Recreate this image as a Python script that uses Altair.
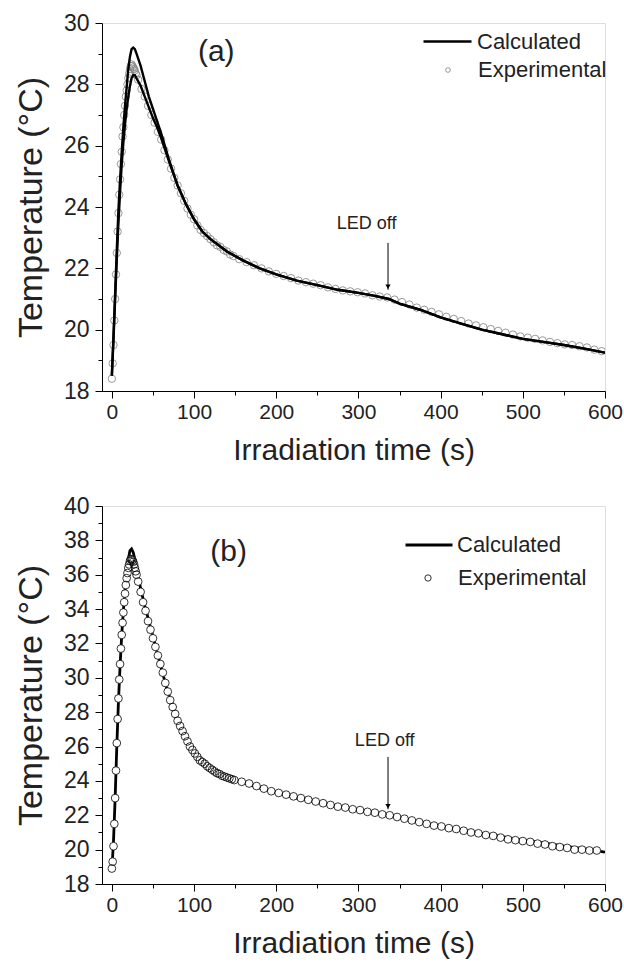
import altair as alt
import pandas as pd

FONT = "Liberation Sans"
TXT = "#222222"

# ---------------- panel (a) ----------------
calc_t_a = [0, 2, 4, 6, 8, 10, 12, 14, 16, 18, 20, 22, 24, 26, 28, 30, 35, 40, 45, 50, 55, 60, 70,
            80, 90, 100, 110, 120, 140, 160, 180, 200, 225, 250, 275, 300, 320, 337, 350, 375, 400,
            425, 450, 475, 500, 525, 550, 575, 600]
calc_hi_a = [18.5, 19.8, 21.2, 22.6, 23.9, 24.9, 25.8, 26.6, 27.3, 27.9, 28.5, 28.9, 29.15, 29.2, 29.15,
             29.0, 28.6, 28.1, 27.6, 27.2, 26.8, 26.4, 25.5,
             24.7, 24.1, 23.6, 23.2, 22.95, 22.55, 22.25, 22.0, 21.8, 21.6, 21.45, 21.3, 21.2, 21.1, 21.0,
             20.85, 20.65, 20.4, 20.2, 20.0, 19.85, 19.7, 19.6, 19.5, 19.38, 19.25]
calc_lo_a = [18.5, 19.7, 21.0, 22.3, 23.5, 24.5, 25.4, 26.1, 26.7, 27.2, 27.6, 27.95, 28.2, 28.3, 28.3,
             28.2, 27.95, 27.6, 27.25, 26.9, 26.6, 26.25, 25.45,
             24.7, 24.1, 23.6, 23.2, 22.95, 22.55, 22.25, 22.0, 21.8, 21.6, 21.45, 21.3, 21.2, 21.1, 21.0,
             20.85, 20.65, 20.4, 20.2, 20.0, 19.85, 19.7, 19.6, 19.5, 19.38, 19.25]

exp_t_a = [0, 1, 2, 3, 4, 5, 6, 7, 8, 9, 10, 11, 12, 13, 14, 15, 16, 17, 18, 19, 20, 21, 22, 23, 24,
           25, 26, 27, 28, 29, 30,
           32, 36, 40, 44, 48, 52, 56, 60, 64, 68, 72, 76, 80, 84, 88, 92, 96, 100, 104, 108, 112, 116,
           120, 124, 128, 132, 136, 140, 144, 148,
           155, 164, 173, 182, 191, 200, 209, 218, 227, 236, 245, 254, 263, 272, 281, 290, 299, 308,
           317, 326, 335, 344, 353, 362, 371, 380, 389, 398, 407, 416, 425, 434, 443, 452, 461, 470,
           479, 488, 497, 506, 515, 524, 533, 542, 551, 560, 569, 578, 587, 596]
exp_T_a = [18.4, 18.9, 19.5, 20.3, 21.0, 21.8, 22.5, 23.2, 23.8, 24.4, 24.9, 25.4, 25.8, 26.3, 26.6,
           27.0, 27.3, 27.6, 27.8, 28.0, 28.2, 28.35, 28.5, 28.6, 28.65, 28.6, 28.55, 28.5, 28.45,
           28.35, 28.3,
           28.15, 27.85, 27.6, 27.3, 27.0, 26.75, 26.45, 26.2, 25.85, 25.55, 25.25, 24.95, 24.7, 24.45,
           24.2, 23.95, 23.75, 23.6, 23.4, 23.25, 23.15, 23.05, 22.95, 22.85, 22.75, 22.7, 22.6, 22.55,
           22.45, 22.4,
           22.3, 22.2, 22.1, 22.0, 21.9, 21.82, 21.75, 21.68, 21.6, 21.55, 21.5, 21.45, 21.38, 21.33,
           21.28, 21.25, 21.22, 21.18, 21.12, 21.08, 21.05, 20.98, 20.9, 20.82, 20.72, 20.65, 20.58,
           20.5, 20.42, 20.35, 20.28, 20.2, 20.14, 20.08, 20.02, 19.96, 19.9, 19.84, 19.78, 19.74,
           19.7, 19.65, 19.6, 19.56, 19.52, 19.5, 19.46, 19.42, 19.35, 19.3]

# ---------------- panel (b) ----------------
calc_t_b = [0, 2, 4, 6, 8, 10, 12, 14, 16, 18, 20, 22, 24, 26, 28, 30, 35, 40, 45, 50, 55, 60, 65, 70,
            75, 80, 85, 90, 95, 100, 110, 120, 130, 140, 150, 175, 200, 225, 250, 275, 300, 320, 338,
            350, 375, 400, 425, 450, 475, 500, 525, 550, 575, 600]
calc_T_b = [18.8, 20.5, 23.0, 26.0, 28.6, 30.7, 32.5, 33.9, 35.1, 36.1, 36.9, 37.4, 37.5, 37.3, 36.9,
            36.4, 35.2, 34.2, 33.3, 32.4, 31.5, 30.6, 29.7, 28.9, 28.2, 27.6, 27.1, 26.6, 26.2, 25.8,
            25.2, 24.8, 24.5, 24.25, 24.05, 23.65, 23.3, 23.0, 22.75, 22.5, 22.3, 22.15, 22.0, 21.85,
            21.6, 21.35, 21.15, 20.95, 20.75, 20.55, 20.4, 20.2, 20.05, 19.85]

exp_t_b = [0, 1, 2, 3, 4, 5, 6, 7, 8, 9, 10, 11, 12, 13, 14, 15, 16, 17, 18, 19, 20, 21, 22, 23, 24,
           25, 26, 27, 28, 29, 30,
           32, 35, 38, 41, 44, 47, 50, 53, 56, 59, 62, 65, 68, 71, 74, 77, 80, 83, 86, 89, 92, 95, 98,
           101, 104, 107, 110, 113, 116, 119, 122, 125, 128, 131, 134, 137, 140, 143, 146, 149,
           158, 167, 176, 185, 194, 203, 212, 221, 230, 239, 248, 257, 266, 275, 284, 293, 302, 311,
           320, 329, 338, 347, 356, 365, 374, 383, 392, 401, 410, 419, 428, 437, 446, 455, 464, 473,
           482, 491, 500, 509, 518, 527, 536, 545, 554, 563, 572, 581, 590]
exp_T_b = [18.9, 19.3, 20.2, 21.5, 23.0, 24.6, 26.2, 27.6, 28.8, 29.9, 30.8, 31.7, 32.5, 33.2, 33.8,
           34.4, 34.9, 35.4, 35.8, 36.1, 36.4, 36.6, 36.8, 36.9, 36.9, 36.85, 36.75, 36.6, 36.4, 36.2,
           36.0,
           35.6, 35.0, 34.4, 33.9, 33.3, 32.8, 32.3, 31.8, 31.3, 30.8, 30.3, 29.7, 29.2, 28.7, 28.3,
           27.9, 27.5, 27.2, 26.9, 26.6, 26.3, 26.0, 25.8, 25.6, 25.4, 25.2, 25.1, 25.0, 24.85, 24.75,
           24.65, 24.55, 24.45, 24.4, 24.3, 24.25, 24.2, 24.15, 24.1, 24.05,
           23.95, 23.85, 23.7, 23.55, 23.4, 23.3, 23.2, 23.1, 23.0, 22.9, 22.8, 22.7, 22.6, 22.5,
           22.45, 22.35, 22.3, 22.2, 22.15, 22.05, 22.0, 21.9, 21.8, 21.7, 21.6, 21.5, 21.4, 21.35,
           21.25, 21.2, 21.1, 21.0, 20.95, 20.85, 20.8, 20.7, 20.6, 20.55, 20.5, 20.45, 20.35, 20.3,
           20.2, 20.15, 20.1, 20.0, 20.0, 19.95, 19.95]

# axis tick values (major with labels, minor without)
x_major = [0, 100, 200, 300, 400, 500, 600]
x_minor = [50, 150, 250, 350, 450, 550]
y_major_a = [18, 20, 22, 24, 26, 28, 30]
y_minor_a = [19, 21, 23, 25, 27, 29]
y_major_b = [18, 20, 22, 24, 26, 28, 30, 32, 34, 36, 38, 40]
y_minor_b = [19, 21, 23, 25, 27, 29, 31, 33, 35, 37, 39]
x_title = "Irradiation time (s)"
y_title = "Temperature (\u00b0C)"
legend_names = ["Calculated", "Experimental"]

# annotations (data coordinates)
panel_lbl_a = {"t": [127], "T": [29.05], "txt": ["(a)"]}
panel_lbl_b = {"t": [142], "T": [37.3], "txt": ["(b)"]}
led_lbl_a = {"t": [310], "T": [23.45], "txt": ["LED off"]}
led_lbl_b = {"t": [332], "T": [26.3], "txt": ["LED off"]}
arrow_a = {"t": [336], "T": [22.83], "T2": [21.3]}
arrow_b = {"t": [336], "T": [25.4], "T2": [22.35]}

W = 503


def major_x():
    return alt.Axis(
        values=x_major, title=x_title, orient="bottom", tickSize=7,
        labelFlush=False, labelOverlap=False, labelBound=False, grid=False,
        labelFontSize=21, titleFontSize=30, titleFontWeight="normal",
        labelFont=FONT, titleFont=FONT, labelColor=TXT, titleColor=TXT,
        domainColor="black", tickColor="black", labelPadding=3, titlePadding=13,
    )


def minor_x():
    return alt.Axis(values=x_minor, orient="bottom", tickSize=4, labels=False, domain=False,
                    grid=False, title=None, tickColor="black")


def major_y(vals):
    return alt.Axis(
        values=vals, title=y_title, orient="left", tickSize=7,
        labelOverlap=False, labelBound=False, grid=False,
        labelFontSize=23, titleFontSize=34, titleFontWeight="normal",
        labelFont=FONT, titleFont=FONT, labelColor=TXT, titleColor=TXT,
        domainColor="black", tickColor="black", labelPadding=6, titlePadding=15,
    )


def minor_y(vals):
    return alt.Axis(values=vals, orient="left", tickSize=4, labels=False, domain=False,
                    grid=False, title=None, tickColor="black")


def panel(calc_df, exp_df, ydom, ymaj, ymin, height, lbl, led, arrow, lw, pt_style, leg,
          points_under):
    xs = alt.Scale(domain=[-12, 600], nice=False, zero=False)
    ys = alt.Scale(domain=ydom, nice=False, zero=False)

    def enc_x(axis):
        return alt.X("t:Q", scale=xs, axis=axis)

    def enc_y(axis, field="T:Q"):
        return alt.Y(field, scale=ys, axis=axis)

    line_axes = points_under is False
    line = alt.Chart(calc_df).mark_line(strokeWidth=lw, clip=True).encode(
        x=enc_x(major_x() if line_axes else None),
        y=enc_y(major_y(ymaj) if line_axes else None),
        detail="curve:N",
        stroke=alt.Stroke("series:N",
                          scale=alt.Scale(domain=[legend_names[0]], range=["black"]),
                          legend=alt.Legend(orient="none", legendX=leg["lx"], legendY=leg["ly"],
                                            title=None, symbolType="stroke",
                                            symbolSize=leg["lsize"], symbolStrokeWidth=lw,
                                            symbolStrokeColor="black", labelFontSize=22,
                                            labelFont=FONT, labelColor=TXT,
                                            labelOffset=leg["loff"], padding=0)),
        order="t:Q",
    )
    # white discs under the open circles (only used where the circles hide the line)
    discs = alt.Chart(exp_df).mark_point(clip=True, filled=True, color="white", opacity=1,
                                         strokeWidth=0, size=pt_style["size"]).encode(
        x=enc_x(None), y=enc_y(None))
    pts = alt.Chart(exp_df).mark_point(clip=True, filled=False, opacity=1, **pt_style).encode(
        x=enc_x(None if line_axes else major_x()),
        y=enc_y(None if line_axes else major_y(ymaj)),
        shape=alt.Shape("series:N",
                        scale=alt.Scale(domain=[legend_names[1]], range=["circle"]),
                        legend=alt.Legend(orient="none", legendX=leg["px"], legendY=leg["py"],
                                          title=None, symbolSize=leg["psize"],
                                          symbolStrokeColor=pt_style["color"],
                                          symbolStrokeWidth=0.8,
                                          labelFontSize=22, labelFont=FONT, labelColor=TXT,
                                          labelOffset=leg["poff"], padding=0)),
    )
    lbl_m = alt.Chart(pd.DataFrame(lbl)).mark_text(fontSize=30, font=FONT, color=TXT).encode(
        x=enc_x(None), y=enc_y(None), text="txt:N")
    led_m = alt.Chart(pd.DataFrame(led)).mark_text(fontSize=18, font=FONT, color=TXT).encode(
        x=enc_x(None), y=enc_y(None), text="txt:N")
    # the arrow shaft also carries the minor-tick axes
    arr_r = alt.Chart(pd.DataFrame(arrow)).mark_rule(color="black", strokeWidth=1).encode(
        x=enc_x(minor_x()), y=enc_y(minor_y(ymin)), y2="T2:Q")
    arr_h = alt.Chart(pd.DataFrame(arrow)).mark_point(shape="triangle-down", filled=True,
                                                      color="black", size=28, opacity=1,
                                                      yOffset=-3).encode(
        x=enc_x(None), y=enc_y(None, "T2:Q"))
    layers = [pts, line] if points_under else [line, discs, pts]
    return alt.layer(*layers, arr_r, lbl_m, led_m, arr_h).resolve_axis(
        x="independent", y="independent").properties(width=W, height=height)


calc_a = pd.DataFrame({
    "t": calc_t_a + calc_t_a,
    "T": calc_hi_a + calc_lo_a,
    "curve": ["upper"] * len(calc_t_a) + ["lower"] * len(calc_t_a),
    "series": [legend_names[0]] * (2 * len(calc_t_a)),
})
exp_a = pd.DataFrame({"t": exp_t_a, "T": exp_T_a, "series": [legend_names[1]] * len(exp_t_a)})
calc_b = pd.DataFrame({"t": calc_t_b, "T": calc_T_b, "curve": ["c"] * len(calc_t_b),
                       "series": [legend_names[0]] * len(calc_t_b)})
exp_b = pd.DataFrame({"t": exp_t_b, "T": exp_T_b, "series": [legend_names[1]] * len(exp_t_b)})

top = panel(calc_a, exp_a, [18, 30], y_major_a, y_minor_a, 368, panel_lbl_a, led_lbl_a, arrow_a,
            2.4,
            {"color": "#808080", "strokeWidth": 0.8, "size": 55},
            {"lx": 320, "ly": -7, "lsize": 2304, "loff": 4, "px": 335, "py": 36, "psize": 22,
             "poff": 19},
            True)
bottom = panel(calc_b, exp_b, [18, 40], y_major_b, y_minor_b, 378, panel_lbl_b, led_lbl_b,
               arrow_b, 2.8,
               {"color": "black", "strokeWidth": 0.8, "size": 60},
               {"lx": 302, "ly": 14, "lsize": 2209, "loff": 3, "px": 315, "py": 61, "psize": 40,
                "poff": 19},
               False)

chart = alt.vconcat(top, bottom, spacing=28).resolve_scale(
    stroke="independent", shape="independent", x="independent", y="independent"
).resolve_legend(stroke="independent", shape="independent").properties(
    padding={"left": 13, "top": 11, "right": 0, "bottom": 0}
).configure_view(stroke="black", strokeWidth=1).configure(background="white")

chart.save("out.html", embed_options={"renderer": "svg", "actions": False})
